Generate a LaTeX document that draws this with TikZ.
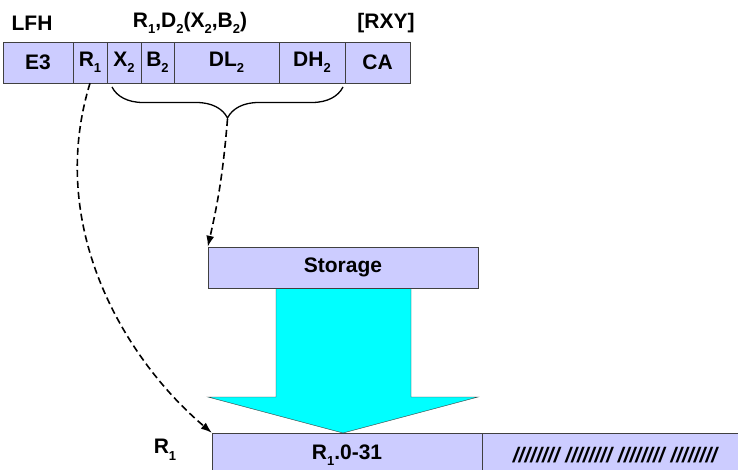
\documentclass[tikz,border=0pt]{standalone}
\usepackage{fontspec}
\setmainfont{Liberation Sans}
\usepackage{tikz}
\usetikzlibrary{arrows.meta,decorations.pathreplacing}
\definecolor{lav}{RGB}{204,204,255}
\definecolor{aqua}{RGB}{0,255,255}
\newcommand{\sbs}[1]{\raisebox{-6.5pt}{\fontsize{13}{13}\selectfont#1}}

\begin{document}
\begin{tikzpicture}[x=1pt,y=-1pt,
        cell/.style={draw=black!75, fill=lav, minimum height=41pt, inner sep=0pt, font=\fontsize{21}{24}\selectfont\bfseries},
        lbl/.style={inner sep=0pt, font=\fontsize{21}{24}\selectfont\bfseries},
        link/.style={draw, line width=1.6pt, dash pattern=on 7pt off 4pt, ->, >={Latex[length=11pt,width=8pt]}}]
        \useasboundingbox (0,0) rectangle (738,470);
        \clip (0,0) rectangle (738,470);
        % instruction format
        \node[lbl] (lfh) at (32,23) {LFH};
        \node[lbl] (ops) at (190,23) {R\sbs{1},D\sbs{2}(X\sbs{2},B\sbs{2})};
        \node[lbl] (rxy) at (386,23) {[RXY]};
        \node[cell, minimum width=70pt] (e3) at (38,62.5) {E3};
        \node[cell, minimum width=34pt] (r1) at (90,62.5) {R\sbs{1}};
        \node[cell, minimum width=34pt] (x2) at (124,62.5) {X\sbs{2}};
        \node[cell, minimum width=33pt] (b2) at (157.5,62.5) {B\sbs{2}};
        \node[cell, minimum width=105pt] (dl2) at (226.5,62.5) {DL\sbs{2}};
        \node[cell, minimum width=66pt] (dh2) at (312,62.5) {DH\sbs{2}};
        \node[cell, minimum width=65pt] (ca) at (377.5,62.5) {CA};
        \draw[line width=1.3pt, decorate, decoration={brace, mirror, amplitude=31pt}] (112,87) -- (343,87);
        \coordinate (tip) at (227.5,119);
        % storage and transfer
        \draw[black!80, fill=aqua] (276,288) -- (276,397) -- (208,397) -- (343,433) -- (478,397) -- (411,397) -- (411,288);
        \node[cell, minimum width=270pt] (stor) at (343,267.5) {Storage};
        % register
        \node[lbl] (rlbl) at (165,450) {R\sbs{1}};
        \node[cell, minimum width=270pt, minimum height=44pt] (lo) at (347,455) {R\sbs{1}.0-31};
        \node[cell, minimum width=266pt, minimum height=44pt] (hi) at (615,455) {\itshape //////// //////// //////// ////////};
        \path[link] (tip) to[bend left=4] (stor.north west);
        \path[link] (r1.south) .. controls (45,230) and (128,362) .. (lo.north west);
    \end{tikzpicture}
\end{document}
